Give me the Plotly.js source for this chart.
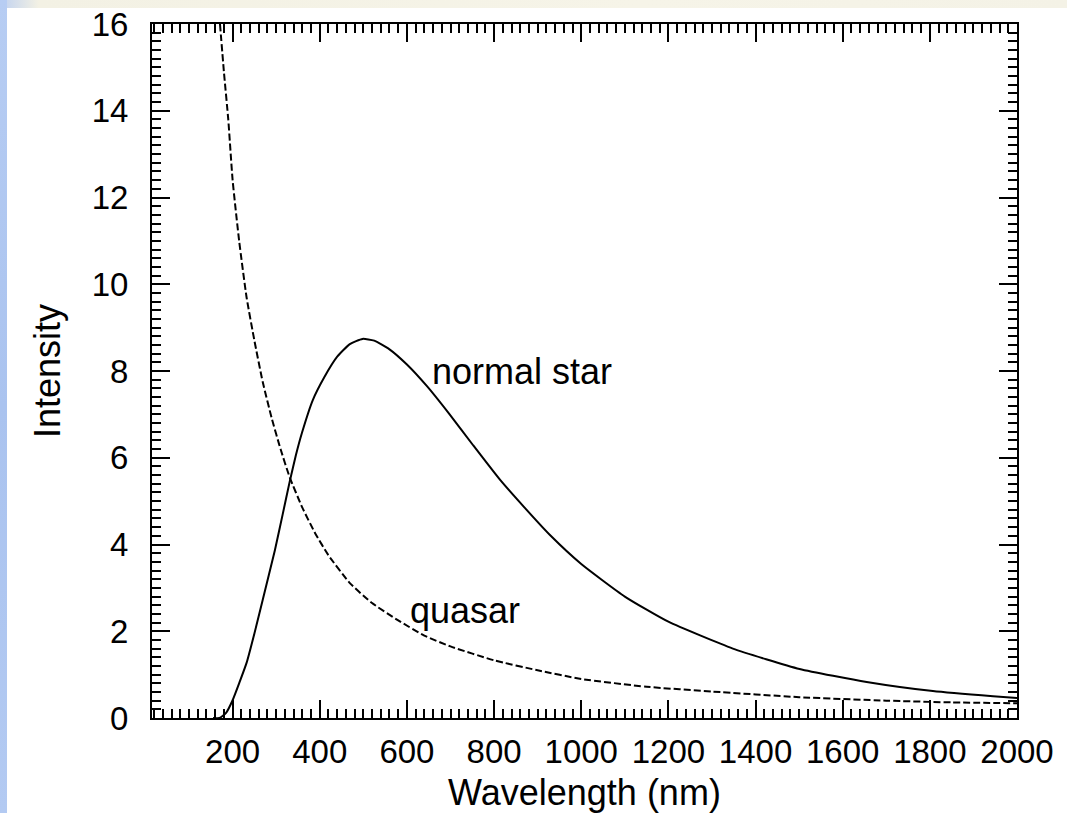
<!DOCTYPE html>
<html>
<head>
<meta charset="utf-8">
<script src="https://cdn.plot.ly/plotly-3.0.1.min.js"></script>
<style>
  html, body { margin: 0; padding: 0; background: #ffffff; }
  #wrap { position: relative; width: 1067px; height: 813px; overflow: hidden; background: #ffffff; }
  #leftstrip { position: absolute; left: 0; top: 0; width: 7px; height: 813px;
    background: linear-gradient(180deg, #b7cdf3 0%, #aac3ef 50%, #b3caf2 100%); }
  #topstrip { position: absolute; left: 7px; top: 0; width: 1060px; height: 8px;
    background: linear-gradient(90deg, #c9d7ee 0%, #f3f1e4 3%, #f6f4e8 60%, #f4f2e6 100%); }
  #chart { position: absolute; left: 0; top: 0; width: 1067px; height: 813px; }
</style>
</head>
<body>
<div id="wrap">
  <div id="leftstrip"></div>
  <div id="topstrip"></div>
  <div id="chart"></div>
</div>
<script>
// Normal star (solid curve) — wavelength (nm) and intensity
const starWavelength = [155, 170, 185, 200, 215, 232, 250, 269, 297, 315, 331, 345, 359, 384, 410, 440, 469, 498, 525, 560, 600, 646, 698, 751, 813, 870, 930, 1000, 1100, 1200, 1348, 1501, 1655, 1807, 1945, 2000];
const starIntensity  = [0.0, 0.0, 0.12, 0.41, 0.80, 1.27, 1.95, 2.72, 3.87, 4.70, 5.45, 6.05, 6.57, 7.33, 7.85, 8.33, 8.62, 8.74, 8.70, 8.50, 8.15, 7.65, 7.00, 6.30, 5.50, 4.85, 4.20, 3.55, 2.80, 2.22, 1.60, 1.13, 0.83, 0.62, 0.50, 0.46];

// Quasar (dashed curve)
const quasarWavelength = [171, 180, 190, 200, 215, 232, 250, 269, 290, 310, 331, 360, 390, 420, 469, 520, 580, 640, 700, 800, 900, 1000, 1150, 1300, 1500, 1700, 1850, 2000];
const quasarIntensity  = [16.0, 14.9, 13.8, 12.4, 11.0, 9.70, 8.70, 7.75, 6.90, 6.20, 5.55, 4.85, 4.25, 3.75, 3.11, 2.65, 2.25, 1.90, 1.65, 1.33, 1.10, 0.90, 0.72, 0.61, 0.48, 0.40, 0.36, 0.34];

// Axis ticks
const xTickValues = [200, 400, 600, 800, 1000, 1200, 1400, 1600, 1800, 2000];
const yTickValues = [0, 2, 4, 6, 8, 10, 12, 14, 16];

// Curve labels
const labelTexts = ["normal star", "quasar"];
const labelX = [652, 602];
const labelY = [7.98, 2.49];

const FONT = '"Liberation Sans", Arial, Helvetica, sans-serif';

const traces = [
  {
    x: starWavelength, y: starIntensity, type: 'scatter', mode: 'lines',
    line: {color: '#000000', width: 2, shape: 'spline', smoothing: 0.5},
    name: 'normal star', showlegend: false, hoverinfo: 'skip'
  },
  {
    x: quasarWavelength, y: quasarIntensity, type: 'scatter', mode: 'lines',
    line: {color: '#000000', width: 2, dash: '7px,3px', shape: 'spline', smoothing: 0.5},
    name: 'quasar', showlegend: false, hoverinfo: 'skip'
  }
];

const annotations = labelTexts.map((t, i) => ({
  x: labelX[i], y: labelY[i], xref: 'x', yref: 'y', text: t, showarrow: false,
  xanchor: 'left', yanchor: 'middle', font: {family: FONT, size: 36, color: '#000000'}
}));

const layout = {
  width: 1067, height: 813,
  margin: {l: 152, r: 50, t: 24, b: 95, pad: 0},
  paper_bgcolor: 'rgba(0,0,0,0)',
  plot_bgcolor: '#ffffff',
  showlegend: false,
  font: {family: FONT, size: 33, color: '#000000'},
  xaxis: {
    range: [15, 2000], autorange: false,
    tickmode: 'array', tickvals: xTickValues, ticktext: xTickValues.map(String),
    ticks: 'inside', ticklen: 18, tickwidth: 2, tickcolor: '#000000',
    minor: {dtick: 20, tick0: 0, ticks: 'inside', ticklen: 9, tickwidth: 2, tickcolor: '#000000'},
    showline: true, linecolor: '#000000', linewidth: 2, mirror: 'ticks',
    showgrid: false, zeroline: false,
    tickfont: {family: FONT, size: 33, color: '#000000'},
    ticklabelstandoff: 3,
    title: {text: 'Wavelength (nm)', font: {family: FONT, size: 36, color: '#000000'}, standoff: 14},
    automargin: false
  },
  yaxis: {
    range: [0, 16], autorange: false,
    tickmode: 'array', tickvals: yTickValues, ticktext: yTickValues.map(String),
    ticks: 'inside', ticklen: 18, tickwidth: 2, tickcolor: '#000000',
    minor: {dtick: 0.2, tick0: 0, ticks: 'inside', ticklen: 9, tickwidth: 2, tickcolor: '#000000'},
    showline: true, linecolor: '#000000', linewidth: 2, mirror: 'ticks',
    showgrid: false, zeroline: false,
    tickfont: {family: FONT, size: 33, color: '#000000'},
    ticklabelstandoff: 15,
    title: {text: 'Intensity', font: {family: FONT, size: 36, color: '#000000'}, standoff: 20},
    automargin: false
  },
  annotations: annotations
};

Plotly.newPlot('chart', traces, layout, {staticPlot: true, displayModeBar: false});
</script>
</body>
</html>
